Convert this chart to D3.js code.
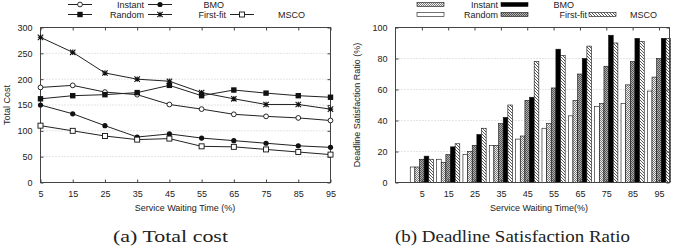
<!DOCTYPE html>
<html>
<head>
<meta charset="utf-8">
<script src="https://cdn.jsdelivr.net/npm/d3@7"></script>
<style>
  html, body { margin: 0; padding: 0; background: #fff; }
  svg { display: block; }
  text { font-family: "Liberation Sans", Arial, Helvetica, sans-serif; fill: #222; }
  .cap { font-family: "Liberation Serif", "DejaVu Serif", serif; }
</style>
</head>
<body>
<svg id="chart" width="685" height="248"></svg>
<script>
// ---------- DATA ----------
const waitTimes = [5, 15, 25, 35, 45, 55, 65, 75, 85, 95];
const seriesNames = ["Instant", "BMO", "Random", "First-fit", "MSCO"];

// (a) Total cost
const costInstant  = [184, 188, 175, 170, 151, 142, 132, 128, 125, 120];
const costBMO      = [150, 133, 110, 88, 94, 86, 81, 76, 71, 68];
const costRandom   = [162, 168, 170, 174, 188, 168, 179, 173, 168, 165];
const costFirstFit = [281, 252, 212, 200, 196, 174, 162, 151, 151, 142];
const costMSCO     = [110, 100, 90, 83, 85, 70, 69, 64, 59, 54];
const costTicks = [0, 50, 100, 150, 200, 250, 300];

// (b) Deadline satisfaction ratio (%)
const ratioInstant  = [10, 13, 20, 24, 30, 38, 53, 51, 63, 68];
const ratioBMO      = [17, 23, 31, 42, 55, 86, 80, 95, 93, 93];
const ratioRandom   = [10, 15, 18, 24, 28, 35, 43, 49, 51, 59];
const ratioFirstFit = [15, 18, 24, 38, 53, 61, 70, 75, 78, 80];
const ratioMSCO     = [15, 25, 35, 50, 78, 82, 88, 90, 91, 93];
const ratioTicks = [0, 20, 40, 60, 80, 100];

const costData = {
  "Instant": costInstant, "BMO": costBMO, "Random": costRandom,
  "First-fit": costFirstFit, "MSCO": costMSCO
};
const ratioData = {
  "Instant": ratioInstant, "BMO": ratioBMO, "Random": ratioRandom,
  "First-fit": ratioFirstFit, "MSCO": ratioMSCO
};
const barOrder = ["Random", "Instant", "First-fit", "BMO", "MSCO"];

// ---------- SETUP ----------
const svg = d3.select("#chart");
const defs = svg.append("defs");

function checker(id, a, b) {
  const p = defs.append("pattern").attr("id", id).attr("patternUnits", "userSpaceOnUse")
    .attr("width", 2).attr("height", 2);
  p.append("rect").attr("width", 2).attr("height", 2).attr("fill", b);
  p.append("rect").attr("x", 0).attr("y", 0).attr("width", 1).attr("height", 1).attr("fill", a);
  p.append("rect").attr("x", 1).attr("y", 1).attr("width", 1).attr("height", 1).attr("fill", a);
}
checker("pInstant", "#7a7a7a", "#f0f0f0");
checker("pFirst", "#555", "#b0b0b0");
{
  const p = defs.append("pattern").attr("id", "pMSCO").attr("patternUnits", "userSpaceOnUse")
    .attr("width", 3).attr("height", 3);
  p.append("rect").attr("width", 3).attr("height", 3).attr("fill", "#fff");
  p.append("path").attr("d", "M-1,-1 L4,4 M-1,2 L1,4 M2,-1 L4,1")
    .attr("stroke", "#444").attr("stroke-width", 0.9);
}
const barFill = {
  "Random": "#fff", "Instant": "url(#pInstant)", "First-fit": "url(#pFirst)",
  "BMO": "#000", "MSCO": "url(#pMSCO)"
};

const FS = 9;

function frame(g, x0, x1, y0, y1) {
  g.append("rect").attr("x", x0).attr("y", y0).attr("width", x1 - x0).attr("height", y1 - y0)
    .attr("fill", "none").attr("stroke", "#444").attr("stroke-width", 1);
}

// ---------- (a) TOTAL COST ----------
const gA = svg.append("g");
const xA = d3.scaleLinear().domain([5, 95]).range([40.5, 330.5]);
const yA = d3.scaleLinear().domain([0, 300]).range([182.5, 27.5]);

gA.append("g").selectAll("line").data(costTicks.slice(1, -1)).join("line")
  .attr("x1", xA.range()[0]).attr("x2", xA.range()[1])
  .attr("y1", d => yA(d)).attr("y2", d => yA(d))
  .attr("stroke", "#bbb").attr("stroke-width", 0.8).attr("stroke-dasharray", "1,2");

const axBA = gA.append("g").attr("transform", `translate(0,${yA.range()[0]})`)
  .call(d3.axisBottom(xA).tickValues(waitTimes).tickSize(-3).tickPadding(8));
const axTA = gA.append("g").attr("transform", `translate(0,${yA.range()[1]})`)
  .call(d3.axisTop(xA).tickValues(waitTimes).tickSize(-3).tickFormat(""));
const axLA = gA.append("g").attr("transform", `translate(${xA.range()[0]},0)`)
  .call(d3.axisLeft(yA).tickValues(costTicks).tickSize(-3).tickPadding(8));
const axRA = gA.append("g").attr("transform", `translate(${xA.range()[1]},0)`)
  .call(d3.axisRight(yA).tickValues(costTicks).tickSize(-3).tickFormat(""));
[axBA, axTA, axLA, axRA].forEach(a => {
  a.select(".domain").remove();
  a.selectAll("line").attr("stroke", "#444");
  a.selectAll("text").attr("font-size", FS).attr("fill", "#222")
    .style("font-family", "'Liberation Sans', Arial, sans-serif");
});
frame(gA, xA.range()[0], xA.range()[1], yA.range()[1], yA.range()[0]);

function marker(g, name, x, y) {
  const s = 2.7;
  if (name === "Instant") {
    g.append("circle").attr("cx", x).attr("cy", y).attr("r", 2.4)
      .attr("fill", "#fff").attr("stroke", "#111").attr("stroke-width", 0.9);
  } else if (name === "BMO") {
    g.append("circle").attr("cx", x).attr("cy", y).attr("r", 2.6).attr("fill", "#111");
  } else if (name === "Random") {
    g.append("rect").attr("x", x - s).attr("y", y - s).attr("width", 2 * s).attr("height", 2 * s)
      .attr("fill", "#111");
  } else if (name === "First-fit") {
    g.append("path")
      .attr("d", `M${x - s},${y} L${x + s},${y} M${x},${y - s} L${x},${y + s} M${x - s},${y - s} L${x + s},${y + s} M${x - s},${y + s} L${x + s},${y - s}`)
      .attr("stroke", "#111").attr("stroke-width", 1.1);
  } else if (name === "MSCO") {
    g.append("rect").attr("x", x - 2.5).attr("y", y - 2.5).attr("width", 5).attr("height", 5)
      .attr("fill", "#fff").attr("stroke", "#111").attr("stroke-width", 0.9);
  }
}

const line = d3.line().x((d, i) => xA(waitTimes[i])).y(d => yA(d));
seriesNames.forEach(name => {
  const vals = costData[name];
  gA.append("path").datum(vals).attr("d", line)
    .attr("fill", "none").attr("stroke", "#222").attr("stroke-width", 1);
  const mg = gA.append("g");
  vals.forEach((v, i) => marker(mg, name, xA(waitTimes[i]), yA(v)));
});

gA.append("text").attr("transform", "translate(10,105) rotate(-90)")
  .attr("text-anchor", "middle").attr("font-size", FS).text("Total Cost");
gA.append("text").attr("x", 185).attr("y", 211).attr("text-anchor", "middle")
  .attr("font-size", FS).text("Service Waiting Time (%)");
gA.append("text").attr("class", "cap").attr("x", 113).attr("y", 242)
  .attr("font-size", 17).attr("textLength", 115).attr("lengthAdjust", "spacingAndGlyphs")
  .text("(a) Total cost");

const legA = [
  { name: "Instant", sx: 68, tx: 144, row: 0 },
  { name: "BMO", sx: 148, tx: 224, row: 0 },
  { name: "Random", sx: 68, tx: 144, row: 1 },
  { name: "First-fit", sx: 148, tx: 226, row: 1 },
  { name: "MSCO", sx: 230, tx: 305, row: 1 }
];
legA.forEach(l => {
  const y = 4.5 + l.row * 10;
  gA.append("line").attr("x1", l.sx).attr("x2", l.sx + 24).attr("y1", y).attr("y2", y)
    .attr("stroke", "#222").attr("stroke-width", 1);
  marker(gA, l.name, l.sx + 12, y);
  gA.append("text").attr("x", l.tx).attr("y", y).attr("dy", "0.35em")
    .attr("text-anchor", "end").attr("font-size", FS).text(l.name);
});

// ---------- (b) DEADLINE SATISFACTION RATIO ----------
const gB = svg.append("g");
const xB = d3.scaleLinear().domain([-1, 9.4]).range([395.5, 669.5]);
const yB = d3.scaleLinear().domain([0, 100]).range([182.5, 27.5]);
const idx = d3.range(waitTimes.length);

gB.append("g").selectAll("line").data(ratioTicks.slice(1, -1)).join("line")
  .attr("x1", xB.range()[0]).attr("x2", xB.range()[1])
  .attr("y1", d => yB(d)).attr("y2", d => yB(d))
  .attr("stroke", "#bbb").attr("stroke-width", 0.8).attr("stroke-dasharray", "1,2");

const inner = d3.scaleBand().domain(barOrder).range([-11.6, 11.6]);
barOrder.forEach(name => {
  gB.append("g").selectAll("rect").data(ratioData[name]).join("rect")
    .attr("x", (d, i) => xB(i) + inner(name))
    .attr("y", d => yB(d))
    .attr("width", inner.bandwidth())
    .attr("height", d => yB(0) - yB(d))
    .attr("fill", barFill[name])
    .attr("stroke", "#111").attr("stroke-width", 0.6);
});

const axBB = gB.append("g").attr("transform", `translate(0,${yB.range()[0]})`)
  .call(d3.axisBottom(xB).tickValues(idx).tickSize(-3).tickPadding(8).tickFormat(i => waitTimes[i]));
const axTB = gB.append("g").attr("transform", `translate(0,${yB.range()[1]})`)
  .call(d3.axisTop(xB).tickValues(idx).tickSize(-3).tickFormat(""));
const axLB = gB.append("g").attr("transform", `translate(${xB.range()[0]},0)`)
  .call(d3.axisLeft(yB).tickValues(ratioTicks).tickSize(-3).tickPadding(8));
const axRB = gB.append("g").attr("transform", `translate(${xB.range()[1]},0)`)
  .call(d3.axisRight(yB).tickValues(ratioTicks).tickSize(-3).tickFormat(""));
[axBB, axTB, axLB, axRB].forEach(a => {
  a.select(".domain").remove();
  a.selectAll("line").attr("stroke", "#444");
  a.selectAll("text").attr("font-size", FS).attr("fill", "#222")
    .style("font-family", "'Liberation Sans', Arial, sans-serif");
});
frame(gB, xB.range()[0], xB.range()[1], yB.range()[1], yB.range()[0]);

gB.append("text").attr("transform", "translate(360,105) rotate(-90)")
  .attr("text-anchor", "middle").attr("font-size", FS).text("Deadline Satisfaction Ratio (%)");
gB.append("text").attr("x", 539).attr("y", 211).attr("text-anchor", "middle")
  .attr("font-size", FS).text("Service Waiting Time(%)");
gB.append("text").attr("class", "cap").attr("x", 395).attr("y", 242)
  .attr("font-size", 17).attr("textLength", 235).attr("lengthAdjust", "spacingAndGlyphs")
  .text("(b) Deadline Satisfaction Ratio");

const legB = [
  { name: "Instant", sx: 417, tx: 498, row: 0 },
  { name: "BMO", sx: 501, tx: 574, row: 0 },
  { name: "Random", sx: 417, tx: 498, row: 1 },
  { name: "First-fit", sx: 501, tx: 587, row: 1 },
  { name: "MSCO", sx: 589, tx: 657, row: 1 }
];
legB.forEach(l => {
  const y = 4.5 + l.row * 10;
  gB.append("rect").attr("x", l.sx).attr("y", y - 2).attr("width", 27).attr("height", 4)
    .attr("fill", barFill[l.name]).attr("stroke", "#111").attr("stroke-width", 0.6);
  gB.append("text").attr("x", l.tx).attr("y", y).attr("dy", "0.35em")
    .attr("text-anchor", "end").attr("font-size", FS).text(l.name);
});
</script>
</body>
</html>
